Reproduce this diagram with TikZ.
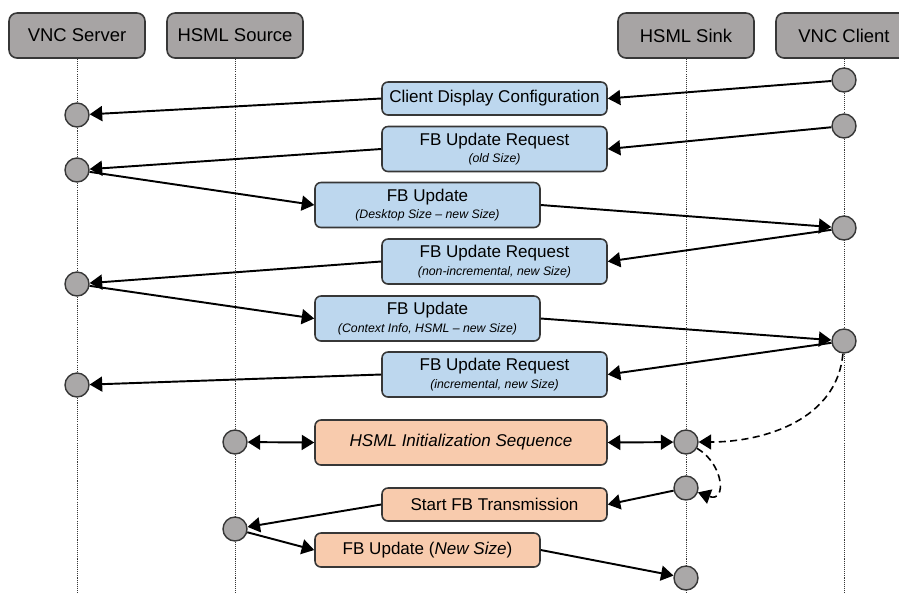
\documentclass[tikz,border=0pt]{standalone}
\usepackage{fontspec}
\setmainfont{Liberation Sans}
\usepackage{tikz}
\usetikzlibrary{arrows.meta,positioning}
\definecolor{actorgray}{RGB}{167,164,164}
\definecolor{eventgray}{RGB}{170,168,168}
\definecolor{reqblue}{RGB}{189,215,238}
\definecolor{hsorange}{RGB}{248,203,173}
\definecolor{edgegray}{RGB}{55,55,55}
\newcommand{\msgnote}[1]{{\fontsize{7}{9.8}\selectfont\itshape #1}}
\tikzset{font=\fontsize{9.7}{9.8}\selectfont}
\tikzset{>={Triangle[length=0.25cm,width=0.3cm]}}
\tikzset{
  actor/.style={draw=edgegray, line width=0.9pt, fill=actorgray, rounded corners=0.16cm,
    minimum width=2.72cm, minimum height=0.9cm, inner sep=0pt, font=\fontsize{10.5}{12}\selectfont},
  event/.style={circle, draw=edgegray, line width=0.8pt, fill=eventgray, minimum size=0.48cm, inner sep=0pt},
  msgbox/.style={draw=edgegray, line width=0.9pt, rounded corners=0.12cm,
    minimum width=4.5cm, minimum height=0.9cm, inner sep=0pt, align=center},
  req/.style={msgbox, fill=reqblue},
  hs/.style={msgbox, fill=hsorange},
  lifeline/.style={edgegray, line width=0.5pt, dash pattern=on 0.6pt off 0.6pt},
  msg/.style={line width=1.1pt, ->},
  trig/.style={msg, line width=0.9pt, dash pattern=on 4pt off 2.5pt}
}

\begin{document}
\begin{tikzpicture}[x=0.02cm, y=-0.02cm]
  \useasboundingbox (0,0) rectangle (899,593);
  \clip (0,0) rectangle (899,593);
  \coordinate (bottom) at (0,593);

  \node[actor] (srv) at (77,35.5) {VNC Server};
  \node[actor] (src) at (235,35.5) {HSML Source};
  \node[actor] (snk) at (686,35.5) {HSML Sink};
  \node[actor] (cli) at (844,35.5) {VNC Client};
  \foreach \a in {srv, src, snk, cli} {
    \draw[lifeline] (\a.south) -- (\a.south |- bottom);
  }

  % events on the lifelines
  \node[event] (s1) at (77,115) {};
  \node[event] (s2) at (77,170) {};
  \node[event] (s3) at (77,284) {};
  \node[event] (s4) at (77,385) {};
  \node[event] (c1) at (844,80) {};
  \node[event] (c2) at (844,126) {};
  \node[event] (c3) at (844,228) {};
  \node[event] (c4) at (844,341) {};
  \node[event] (h1) at (235,442) {};
  \node[event] (h2) at (235,529) {};
  \node[event] (k1) at (686,442) {};
  \node[event] (k2) at (686,488) {};
  \node[event] (k3) at (686,578) {};

  % messages
  \node[req, minimum height=0.66cm] (m1) at (494.5,98.5) {Client Display Configuration};
  \node[req] (m2) at (494.5,149) {FB Update Request\\\msgnote{(old Size)}};
  \node[req] (m3) at (427.5,205) {FB Update\\\msgnote{(Desktop Size – new Size)}};
  \node[req] (m4) at (494.5,261.5) {FB Update Request\\\msgnote{(non-incremental, new Size)}};
  \node[req] (m5) at (427.5,318.5) {FB Update\\\msgnote{(Context Info, HSML – new Size)}};
  \node[req] (m6) at (494.5,374.5) {FB Update Request\\\msgnote{(incremental, new Size)}};
  \node[hs, minimum width=5.84cm] (m7) at (461,442.5) {\itshape HSML Initialization Sequence};
  \node[hs, minimum height=0.66cm] (m8) at (494.5,504.5) {Start FB Transmission};
  \node[hs, minimum height=0.68cm] (m9) at (427.5,550) {FB Update (\textit{New Size})};

  \draw[msg] (c1) -- (m1.east);
  \draw[msg] (m1.west) -- (s1);
  \draw[msg] (c2) -- (m2.east);
  \draw[msg] (m2.west) -- (s2);
  \draw[msg] (s2) -- (m3.west);
  \draw[msg] (m3.east) -- (c3);
  \draw[msg] (c3) -- (m4.east);
  \draw[msg] (m4.west) -- (s3);
  \draw[msg] (s3) -- (m5.west);
  \draw[msg] (m5.east) -- (c4);
  \draw[msg] (c4) -- (m6.east);
  \draw[msg] (m6.west) -- (s4);
  \draw[msg, <->] (h1) -- (m7.west);
  \draw[msg, <->] (m7.east) -- (k1);
  \draw[trig] (c4) to[out=-95, in=0] (k1);
  \draw[trig] (k1) to[out=-30, in=-20, looseness=1.8] (k2);
  \draw[msg] (k2) -- (m8.east);
  \draw[msg] (m8.west) -- (h2);
  \draw[msg] (h2) -- (m9.west);
  \draw[msg] (m9.east) -- (k3);
\end{tikzpicture}
\end{document}
